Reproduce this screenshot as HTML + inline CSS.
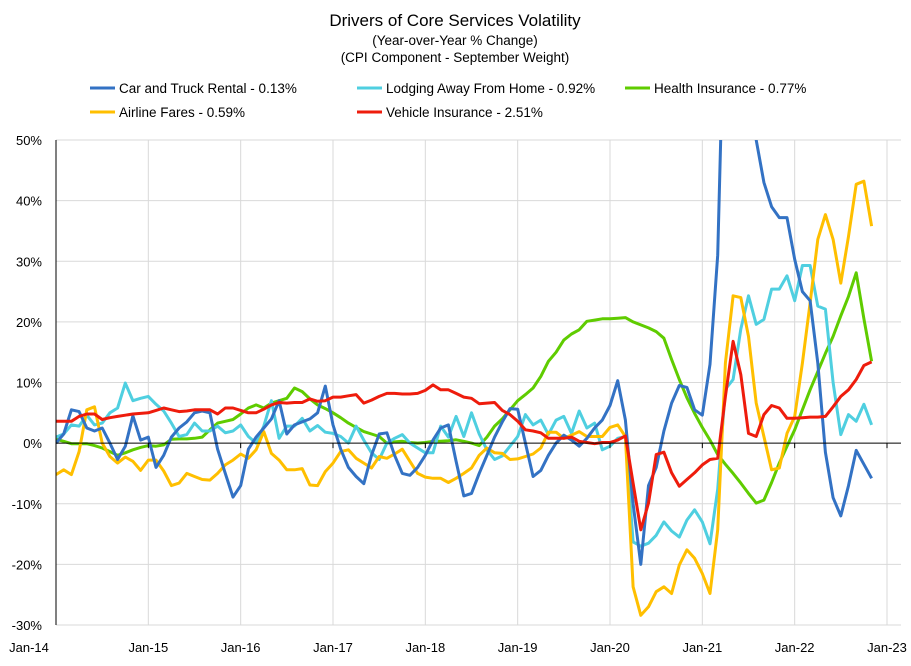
<!DOCTYPE html>
<html><head><meta charset="utf-8"><style>
body{margin:0;background:#fff;width:911px;height:661px;overflow:hidden;font-family:"Liberation Sans",sans-serif}
svg text{font-family:"Liberation Sans",sans-serif;fill:#000}
</style></head><body>
<svg id="chart" width="911" height="661" xmlns="http://www.w3.org/2000/svg">
<text x="455" y="26" text-anchor="middle" font-size="17">Drivers of Core Services Volatility</text>
<text x="455" y="45" text-anchor="middle" font-size="13.5">(Year-over-Year % Change)</text>
<text x="455" y="62" text-anchor="middle" font-size="13.5">(CPI Component - September Weight)</text>
<g id="legend"></g>
<defs><clipPath id="pc"><rect x="56" y="140" width="845" height="486"/></clipPath></defs>
<g id="grid"></g><g id="series" clip-path="url(#pc)"></g><g id="axes"></g>
</svg>
<script>
const seriesNames=["Car and Truck Rental - 0.13%","Lodging Away From Home - 0.92%","Health Insurance - 0.77%","Airline Fares - 0.59%","Vehicle Insurance - 2.51%"];
const seriesColors=["#3372c4","#4fcfe0","#5fcc00","#ffbf00","#ee1c0c"];
const xTickLabels=["Jan-14","Jan-15","Jan-16","Jan-17","Jan-18","Jan-19","Jan-20","Jan-21","Jan-22","Jan-23"];
const yTicks=[50,40,30,20,10,0,-10,-20,-30];
const carRental=[0,1.5,5.5,5.2,2.5,2,2.5,0,-2.7,-0.5,4.5,0.5,
1,-4,-2,1,2.5,3.5,5,5.3,5,-1,-5,-8.9,
-7,-1,1,2.5,4,7,1.5,3,3.5,4,5,9.4,
3,-1,-4,-5.5,-6.7,-2,1.5,1.7,-2,-5,-5.3,-4,
-2,0.5,2.5,3,-3,-8.7,-8.3,-5,-2,1,3.5,5.7,
5.6,0,-5.5,-4.5,-2,0,1.3,0.5,-0.5,0.8,2.5,3.8,
6.2,10.3,3.8,-10,-20,-7,-4,2,6.6,9.5,9.2,5.5,
4.6,13,31,80,100,100,80,50,43,39,37.2,37.2,
30.3,25,23.5,13.2,-1.5,-9,-12,-7,-1.2,-3.5,-5.8];
const lodging=[1,1.5,3,2.8,4.6,3,3.3,5,5.8,9.9,7,7.4,
7.7,6.4,5.3,3.3,1.1,1.4,3.3,2,2,2.8,1.7,2,
3,1.1,0,2.8,7,0.8,2.8,2.8,4.1,2,2.9,1.8,
1.6,1.1,0,2.8,0.5,-1.6,-2.7,0,0.8,1.4,0,-0.8,
-1.6,-1.6,2.8,1,4.4,1.1,5,1.5,-1.1,-2.7,-2.1,-0.5,
1.1,4.7,3,3.8,1.4,3.8,4.4,1.6,5.3,2.5,3.3,-1.1,
-0.5,0.8,1.1,-16.3,-17,-16.5,-15.2,-13,-14.5,-15.5,-12.7,-11,
-13,-16.6,-7.6,8.9,10.5,18.8,24.3,19.6,20.4,25.4,25.4,27.6,
23.5,29.3,29.3,22.6,22.1,10,1.4,4.7,3.6,6.4,3];
const healthIns=[0.65,0.3,-0.1,-0.1,-0.1,-0.4,-0.8,-1.4,-2,-1.6,-1.1,-0.7,
-0.4,-0.5,-0.3,0.65,0.7,0.7,0.8,1,2.2,3.3,3.6,3.9,
4.8,5.8,6.3,5.8,6.6,7,7.4,9.1,8.5,7.3,6.3,5.7,
5,4.2,3.3,2.6,1.9,1.5,1.1,0,0.2,0.3,0.1,0,
0.1,0.3,0.3,0.4,0.55,0.3,0,-0.4,1,2.8,4,5.5,
7,8,9.1,11,13.5,15,17,18,18.7,20.1,20.3,20.5,
20.5,20.6,20.7,20,19.5,19,18.4,17.3,13.8,10.5,7.5,4.9,
2.6,0.5,-1.9,-3.5,-5,-6.6,-8.3,-9.9,-9.4,-6.5,-3.3,-0.5,
2.2,5.5,8.8,11.8,14.8,17.6,21,24.2,28.1,20.5,13.5];
const airline=[-5.2,-4.4,-5.2,-1.4,5.5,6,0,-2.2,-3.3,-2.3,-3,-4.5,
-2.8,-2.8,-4.6,-7,-6.6,-5,-5.5,-6,-6.1,-5,-3.6,-2.8,
-1.8,-2.5,-1.1,1.9,-1.7,-2.8,-4.4,-4.4,-4.2,-6.9,-7,-4.7,
-3.3,-1.4,-1.1,-2.5,-3.3,-4.1,-2.2,-2.5,-1.8,-1,-3,-5,
-5.6,-5.8,-5.8,-6.5,-5.8,-5,-4.1,-2,-0.8,-1.6,-1.7,-2.7,
-2.6,-2.2,-1.8,-0.8,1.8,1.8,0.8,1.3,1.9,1.1,1.1,1.1,
2.6,3,1.1,-23.7,-28.4,-27,-24.5,-23.7,-24.8,-20.1,-17.6,-19,
-21.5,-24.8,-14.3,13.2,24.3,24,17.6,6.6,1.1,-4.4,-4.1,1.6,
4.4,13.2,23.1,33.6,37.7,33.6,26.4,34.1,42.7,43.2,35.8];
const vehicleIns=[3.6,3.6,3.6,4.4,4.8,4.8,3.9,4.2,4.4,4.6,4.8,4.9,
5,5.4,5.8,5.5,5.2,5.3,5.5,5.5,5.5,4.8,5.8,5.8,
5.4,5,5,5.6,6.3,6.7,6.6,6.7,6.7,7.3,6.9,7,
7.6,7.6,7.8,8,6.6,7.1,7.7,8.2,8.2,8.1,8.1,8.2,
8.7,9.6,8.8,8.8,8.2,7.6,7.4,6.5,6.6,6.7,5.4,4.7,
3.6,2.2,2,1.7,0.8,0.8,0.8,1,0.3,0.1,-0.1,0.1,
0.1,0.5,1.2,-6.6,-14.3,-9.9,-1.9,-1.5,-4.9,-7.1,-6,-4.9,
-3.6,-2.7,-2.5,7.7,16.8,11.3,1.6,1.1,4.7,6.2,5.8,4.1,
4.1,4.2,4.3,4.3,4.4,6,7.7,8.8,10.5,12.8,13.4];
const allSeries=[carRental,lodging,healthIns,airline,vehicleIns];

const NS="http://www.w3.org/2000/svg";
const X0=56,X1=887,YT=140,YB=625,YMAX=50,YMIN=-30;
const xMonth=i=>X0+(X1-X0)*i/108;
const y=v=>YT+(YMAX-v)*(YB-YT)/(YMAX-YMIN);
function mk(tag,attrs,parent){const e=document.createElementNS(NS,tag);for(const k in attrs)e.setAttribute(k,attrs[k]);parent.appendChild(e);return e;}
const grid=document.getElementById('grid'),axes=document.getElementById('axes'),ser=document.getElementById('series'),leg=document.getElementById('legend');
yTicks.forEach(t=>{
  if(t!==0){const l=mk('line',{x1:X0,x2:901,y1:y(t),y2:y(t),stroke:'#d9d9d9','stroke-width':1},grid);
  
  }
  const tx=mk('text',{x:42,y:y(t)+5,'text-anchor':'end','font-size':13},axes);
  tx.textContent=t+'%';
  
  
});
xTickLabels.forEach((lab,k)=>{
  const xx=xMonth(k*12);
  if(k>0){const l=mk('line',{x1:xx,x2:xx,y1:YT,y2:YB,stroke:'#d9d9d9','stroke-width':1},grid);
  
  }
  const tk=mk('line',{x1:xx,x2:xx,y1:y(0),y2:y(0)+5,stroke:'#000'},axes);
  
  
  const tx=mk('text',{x:k===0?29:xx,y:652,'text-anchor':'middle','font-size':13},axes);
  tx.textContent=lab;
  
  
});
const za=mk('line',{x1:X0,x2:901,y1:y(0),y2:y(0),stroke:'#000','stroke-width':1},axes);


const ya=mk('line',{x1:X0,x2:X0,y1:YT,y2:YB,stroke:'#000','stroke-width':1},axes);


const order=[2,1,3,0,4];
order.forEach(s=>{
  const d=allSeries[s].map((v,i)=>(i?'L':'M')+xMonth(i).toFixed(1)+','+y(v).toFixed(1)).join('');
  const p=mk('path',{d:d,fill:'none',stroke:seriesColors[s],'stroke-width':3,'stroke-linejoin':'round'},ser);
  
  
});
const legPos=[[90,88],[357,88],[625,88],[90,112],[357,112]];
seriesNames.forEach((n,s)=>{
  const [lx,ly]=legPos[s];
  const l=mk('line',{x1:lx,x2:lx+25,y1:ly,y2:ly,stroke:seriesColors[s],'stroke-width':3},leg);
  
  
  const t=mk('text',{x:lx+29,y:ly+5,'font-size':13.5},leg);
  t.textContent=n;
  
  
});
</script>
</body></html>
